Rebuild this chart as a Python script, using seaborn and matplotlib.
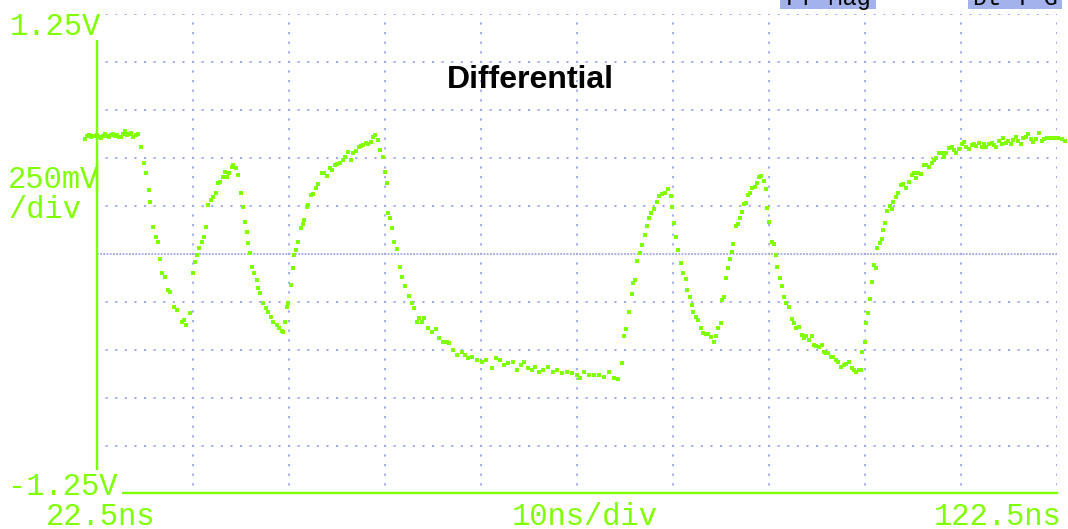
import matplotlib
matplotlib.use("Agg")
import matplotlib.pyplot as plt
import seaborn as sns
import numpy as np
from matplotlib.patches import Rectangle

# ---------------- data ----------------
time_ns = [
    21.25, 21.46, 21.67, 21.88, 22.08, 22.29, 22.50, 22.71, 22.92, 23.12, 23.33, 23.54, 23.75, 23.96,
    24.16, 24.37, 24.58, 24.79, 25.00, 25.21, 25.41, 25.62, 25.83, 26.04, 26.25, 26.56, 26.77,
    27.08, 27.39, 27.60, 27.91, 28.02, 28.33, 28.64, 28.85, 29.06, 29.26, 29.58, 29.89, 30.10,
    30.51, 30.82, 31.35, 31.55, 31.76, 32.18, 32.49, 32.70, 32.91, 33.11, 33.43, 33.63, 33.84,
    34.05, 34.36, 34.57, 34.88, 35.09, 35.30, 35.61, 35.82, 36.03, 36.24, 36.55, 36.65, 36.96,
    37.17, 37.48, 37.69, 37.90, 38.11, 38.21, 38.42, 38.63, 38.84, 39.15, 39.25, 39.46, 39.77,
    40.09, 40.29, 40.61, 40.81, 41.23, 41.44, 41.75, 41.86, 42.06, 42.27, 42.38, 42.69, 42.90,
    43.00, 43.21, 43.42, 43.73, 43.94, 44.04, 44.35, 44.46, 44.77, 44.98, 45.29, 45.50, 45.91,
    46.12, 46.43, 46.75, 46.95, 47.27, 47.47, 47.79, 48.10, 48.31, 48.62, 48.93, 49.14, 49.45,
    49.76, 49.97, 50.18, 50.49, 50.70, 51.01, 51.22, 51.43, 51.74, 51.95, 52.26, 52.47, 52.68,
    52.78, 52.99, 53.20, 53.41, 53.72, 54.03, 54.24, 54.55, 54.97, 55.28, 55.49, 55.80, 56.01,
    56.32, 56.53, 56.94, 57.36, 57.78, 58.09, 58.50, 58.92, 59.13, 59.55, 59.96, 60.48, 60.79,
    61.11, 61.52, 62.04, 62.56, 62.98, 63.60, 64.02, 64.44, 64.85, 65.27, 65.79, 66.21, 66.62,
    66.93, 67.35, 67.77, 68.08, 68.49, 68.91, 69.43, 69.95, 70.37, 70.89, 71.41, 71.93, 72.45,
    72.86, 73.28, 73.80, 74.32, 74.84, 75.36, 75.88, 76.40, 76.82, 77.23, 77.44, 77.65, 77.96,
    78.28, 78.38, 78.59, 78.80, 79.11, 79.32, 79.63, 79.84, 80.05, 80.25, 80.57, 80.88, 81.09,
    81.40, 81.71, 82.02, 82.33, 82.44, 82.65, 82.86, 83.06, 83.38, 83.58, 83.90, 84.00, 84.31,
    84.52, 84.63, 84.94, 85.14, 85.46, 85.66, 85.98, 86.18, 86.50, 86.81, 87.02, 87.23, 87.54,
    87.64, 87.85, 88.06, 88.27, 88.47, 88.68, 88.79, 89.10, 89.31, 89.51, 89.72, 89.93, 90.14,
    90.35, 90.56, 90.76, 91.08, 91.28, 91.49, 91.70, 92.01, 92.22, 92.33, 92.53, 92.85, 93.05,
    93.26, 93.37, 93.68, 93.89, 94.09, 94.30, 94.61, 94.93, 95.13, 95.34, 95.65, 95.97, 96.17,
    96.38, 96.69, 97.01, 97.22, 97.42, 97.74, 98.05, 98.26, 98.47, 98.68, 98.98, 99.19, 99.50,
    99.71, 100.03, 100.34, 100.55, 100.86, 101.17, 101.38, 101.59, 101.90, 102.11, 102.21, 102.53,
    102.63, 102.84, 103.04, 103.25, 103.46, 103.67, 103.77, 104.08, 104.29, 104.39, 104.60, 104.81,
    105.12, 105.33, 105.44, 105.75, 105.96, 106.27, 106.48, 106.79, 107.10, 107.42, 107.62, 107.83,
    108.04, 108.35, 108.66, 108.87, 109.18, 109.49, 109.70, 109.91, 110.22, 110.53, 110.74, 110.95,
    111.26, 111.58, 111.78, 111.99, 112.30, 112.62, 112.82, 113.03, 113.34, 113.66, 113.86, 114.07,
    114.38, 114.70, 114.90, 115.11, 115.43, 115.74, 115.95, 116.15, 116.47, 116.78, 116.88, 117.19,
    117.40, 117.71, 117.92, 118.23, 118.44, 118.76, 118.97, 119.28, 119.49, 119.80, 120.01, 120.32,
    120.63, 120.95, 121.15, 121.46, 121.88, 122.29, 122.60, 123.02, 123.33,
]
volts = [
    0.599, 0.615, 0.620, 0.609, 0.615, 0.615, 0.620, 0.609, 0.604, 0.615, 0.625, 0.615, 0.609, 0.620,
    0.625, 0.615, 0.620, 0.609, 0.609, 0.625, 0.641, 0.620, 0.625, 0.630, 0.609, 0.620, 0.625,
    0.557, 0.474, 0.422, 0.333, 0.271, 0.141, 0.089, 0.063, -0.026, -0.099, -0.120, -0.188, -0.198,
    -0.276, -0.292, -0.354, -0.344, -0.370, -0.307, -0.099, -0.042, -0.005, 0.031, 0.063, 0.089, 0.141,
    0.255, 0.281, 0.297, 0.318, 0.370, 0.375, 0.401, 0.427, 0.401, 0.422, 0.453, 0.464, 0.448,
    0.411, 0.318, 0.245, 0.167, 0.115, 0.057, 0.005, -0.068, -0.099, -0.135, -0.177, -0.203, -0.255,
    -0.281, -0.302, -0.328, -0.354, -0.370, -0.385, -0.401, -0.406, -0.354, -0.276, -0.255, -0.161, -0.073,
    -0.005, 0.021, 0.063, 0.135, 0.156, 0.177, 0.245, 0.255, 0.307, 0.313, 0.344, 0.365, 0.422,
    0.422, 0.406, 0.448, 0.438, 0.464, 0.469, 0.474, 0.490, 0.505, 0.531, 0.490, 0.526, 0.536,
    0.557, 0.563, 0.568, 0.578, 0.573, 0.583, 0.609, 0.620, 0.594, 0.542, 0.505, 0.427, 0.370,
    0.214, 0.188, 0.135, 0.063, 0.026, -0.068, -0.120, -0.167, -0.219, -0.255, -0.281, -0.354, -0.333,
    -0.354, -0.333, -0.385, -0.406, -0.391, -0.438, -0.458, -0.458, -0.464, -0.500, -0.526, -0.510, -0.526,
    -0.542, -0.536, -0.552, -0.563, -0.552, -0.594, -0.542, -0.552, -0.578, -0.568, -0.563, -0.604, -0.578,
    -0.563, -0.594, -0.604, -0.589, -0.615, -0.604, -0.589, -0.615, -0.604, -0.620, -0.615, -0.620, -0.630,
    -0.646, -0.615, -0.630, -0.630, -0.630, -0.641, -0.615, -0.646, -0.651, -0.568, -0.427, -0.391, -0.302,
    -0.208, -0.151, -0.135, -0.036, 0.005, 0.047, 0.099, 0.146, 0.188, 0.214, 0.234, 0.271, 0.302,
    0.313, 0.318, 0.339, 0.302, 0.245, 0.161, 0.089, 0.021, -0.047, -0.099, -0.130, -0.188, -0.224,
    -0.266, -0.302, -0.328, -0.344, -0.385, -0.411, -0.417, -0.417, -0.432, -0.458, -0.427, -0.385, -0.359,
    -0.240, -0.224, -0.125, -0.073, -0.026, 0.010, 0.052, 0.146, 0.156, 0.188, 0.219, 0.260, 0.266,
    0.307, 0.318, 0.344, 0.349, 0.370, 0.401, 0.406, 0.380, 0.339, 0.240, 0.167, 0.063, 0.052,
    -0.005, -0.068, -0.125, -0.167, -0.224, -0.255, -0.276, -0.339, -0.359, -0.385, -0.380, -0.422, -0.438,
    -0.427, -0.448, -0.427, -0.474, -0.479, -0.484, -0.474, -0.510, -0.516, -0.516, -0.536, -0.536, -0.552,
    -0.563, -0.589, -0.578, -0.573, -0.563, -0.594, -0.604, -0.615, -0.604, -0.604, -0.510, -0.458,
    -0.359, -0.307, -0.234, -0.146, -0.057, -0.073, 0.031, 0.057, 0.078, 0.125, 0.161, 0.224,
    0.250, 0.234, 0.271, 0.297, 0.318, 0.359, 0.365, 0.344, 0.375, 0.411, 0.422, 0.396,
    0.422, 0.417, 0.464, 0.464, 0.453, 0.474, 0.490, 0.500, 0.526, 0.526, 0.505, 0.526,
    0.552, 0.557, 0.542, 0.526, 0.547, 0.573, 0.583, 0.557, 0.547, 0.568, 0.573, 0.563,
    0.578, 0.557, 0.573, 0.557, 0.573, 0.578, 0.568, 0.557, 0.589, 0.573, 0.604, 0.578,
    0.589, 0.573, 0.594, 0.609, 0.589, 0.573, 0.604, 0.609, 0.625, 0.599, 0.583, 0.599,
    0.630, 0.589, 0.599, 0.604, 0.604, 0.604, 0.604, 0.599, 0.589,
]

x_ticks = [32.5, 42.5, 52.5, 62.5, 72.5, 82.5, 92.5, 102.5, 112.5, 122.5]
y_ticks = [-1.0, -0.75, -0.5, -0.25, 0.25, 0.5, 0.75, 1.0, 1.25]
title = "Differential"
scale_labels = ["1.25V", "250mV", "/div", "-1.25V"]
time_labels = ["22.5ns", "10ns/div", "122.5ns"]
status_labels = ["Ff Mag", "Dt T G"]

# ---------------- styling ----------------
sns.set_theme(style="white")
plt.rcParams["lines.scale_dashes"] = False
plt.rcParams["font.family"] = ["Liberation Mono", "DejaVu Sans Mono"]

GREEN = "#80ff00"
DOT = "#a3abe6"

W, H = 1068, 529
fig = plt.figure(figsize=(W / 100, H / 100), dpi=100)
fig.patch.set_facecolor("white")

# plot area: x 97..1057 px, y 14..494 px
ax = fig.add_axes([97 / W, 1 - 494 / H, 960 / W, 480 / H])
ax.set_facecolor("white")
ax.set_xlim(22.5, 122.5)
ax.set_ylim(-1.25, 1.25)
for s in ax.spines.values():
    s.set_visible(False)
ax.set_xticks(x_ticks)
ax.set_yticks(y_ticks)
ax.tick_params(length=0, labelleft=False, labelbottom=False)
period = 9.6 * 0.72
ax.grid(True, color=DOT, linewidth=1.45, linestyle=(0.7, (1.5, period - 1.5)))
ax.set_axisbelow(True)
ax.set_xlabel("")
ax.set_ylabel("")

# dense centre line
ax.axhline(0.0, color=DOT, linewidth=1.35, linestyle=(0, (1.3, 1.0)), zorder=1)

# trace
sns.scatterplot(x=time_ns, y=volts, ax=ax, color=GREEN, marker="s", s=6,
                linewidth=0, legend=False, clip_on=False, zorder=3)

# green axis lines
ax.vlines(22.5, 0.323, 1.115, color=GREEN, linewidth=1.7, clip_on=False, zorder=4)
ax.vlines(22.5, -1.125, 0.474, color=GREEN, linewidth=1.7, clip_on=False, zorder=4)
ax.hlines(-1.245, 25.1, 122.6, color=GREEN, linewidth=1.7, clip_on=False, zorder=4)

# texts
def px(x, y):
    return x / W, 1 - y / H

fs = 22
fig.text(*px(10, 35), scale_labels[0], color=GREEN, fontsize=fs, va="baseline", ha="left")
fig.text(*px(8, 188), scale_labels[1], color=GREEN, fontsize=fs, va="baseline", ha="left")
fig.text(*px(8, 218), scale_labels[2], color=GREEN, fontsize=fs, va="baseline", ha="left")
fig.text(*px(8, 495), scale_labels[3], color=GREEN, fontsize=fs, va="baseline", ha="left")
fig.text(*px(46, 525), time_labels[0], color=GREEN, fontsize=fs, va="baseline", ha="left")
fig.text(*px(585, 525), time_labels[1], color=GREEN, fontsize=fs, va="baseline", ha="center")
fig.text(*px(1062, 525), time_labels[2], color=GREEN, fontsize=fs, va="baseline", ha="right")

fig.text(*px(530, 88), title, color="black", fontsize=23, fontweight="bold",
         family=["Liberation Sans", "DejaVu Sans"], va="baseline", ha="center")

# status boxes at the top edge
for (x0, x1), lab in zip([(780, 876), (968, 1062)], status_labels):
    fig.patches.append(Rectangle((x0 / W, 1 - 9 / H), (x1 - x0) / W, 9 / H,
                                 transform=fig.transFigure, facecolor="#a3b2ea",
                                 edgecolor="none", zorder=5))
    fig.text(*px((x0 + x1) / 2, 5), lab, color="black", fontsize=17,
             va="baseline", ha="center", zorder=6)

fig.savefig("out.png", dpi=100, facecolor="white")
